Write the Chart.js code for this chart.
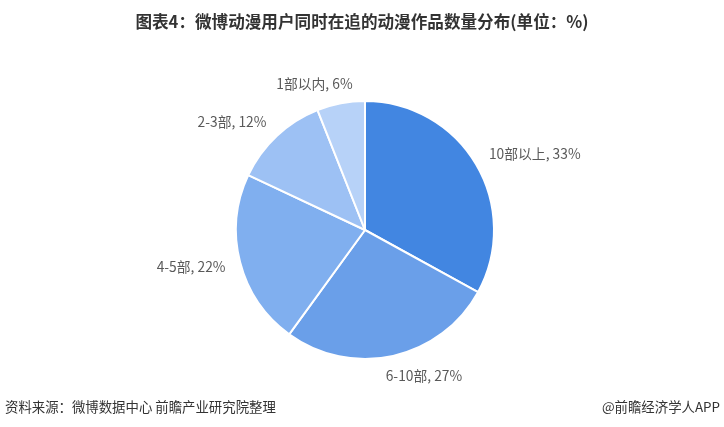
<!DOCTYPE html>
<html>
<head>
<meta charset="utf-8">
<script src="https://cdn.jsdelivr.net/npm/chart.js@4/dist/chart.umd.min.js"></script>
<style>
html,body{margin:0;padding:0;background:#fff;}
#wrap{position:relative;width:724px;height:427px;}
</style>
</head>
<body>
<div id="wrap"><canvas id="c" width="724" height="427"></canvas></div>
<script>
const title = '图表4：微博动漫用户同时在追的动漫作品数量分布(单位：%)';
const source = '资料来源：微博数据中心 前瞻产业研究院整理';
const credit = '@前瞻经济学人APP';
const categories = ['10部以上', '6-10部', '4-5部', '2-3部', '1部以内'];
const shares = [33, 27, 22, 12, 6];
const colors = ['#4286E1', '#6A9FE9', '#80AFEF', '#9DC1F4', '#B7D2F8'];

const FONT = '"Noto Sans CJK SC", "Noto Sans", sans-serif';

const textPlugin = {
  id: 'texts',
  afterDraw(chart) {
    const ctx = chart.ctx;
    ctx.save();
    // title
    ctx.fillStyle = '#333333';
    ctx.font = 'bold 16.6px ' + FONT;
    ctx.textAlign = 'center';
    ctx.textBaseline = 'middle';
    ctx.fillText(title, 362, 22);
    // footer
    ctx.font = '13.4px ' + FONT;
    ctx.textAlign = 'left';
    ctx.fillText(source, 5, 407);
    ctx.textAlign = 'right';
    ctx.fillText(credit, 720, 407);
    // slice labels
    const meta = chart.getDatasetMeta(0);
    ctx.font = '13.8px ' + FONT;
    ctx.fillStyle = '#595959';
    ctx.textAlign = 'center';
    ctx.textBaseline = 'middle';
    meta.data.forEach((arc, i) => {
      const txt = categories[i] + ', ' + shares[i] + '%';
      const w = ctx.measureText(txt).width;
      const mid = (arc.startAngle + arc.endAngle) / 2;
      const r = arc.outerRadius + 15;
      const dx = Math.cos(mid), dy = Math.sin(mid);
      const px = arc.x + dx * r;
      const py = arc.y + dy * r;
      const shift = Math.max(-w / 2, Math.min(w / 2, dx * w * 1.65));
      ctx.fillText(txt, px + shift, py + dy * 5);
    });
    ctx.restore();
  }
};

new Chart(document.getElementById('c'), {
  type: 'pie',
  data: {
    labels: categories,
    datasets: [{
      data: shares,
      backgroundColor: colors,
      borderColor: '#ffffff',
      borderWidth: 2
    }]
  },
  options: {
    responsive: false,
    animation: false,
    layout: { padding: { top: 100, bottom: 67, left: 235, right: 229 } },
    plugins: { legend: { display: false }, tooltip: { enabled: false }, title: { display: false } }
  },
  plugins: [textPlugin]
});
</script>
</body>
</html>
